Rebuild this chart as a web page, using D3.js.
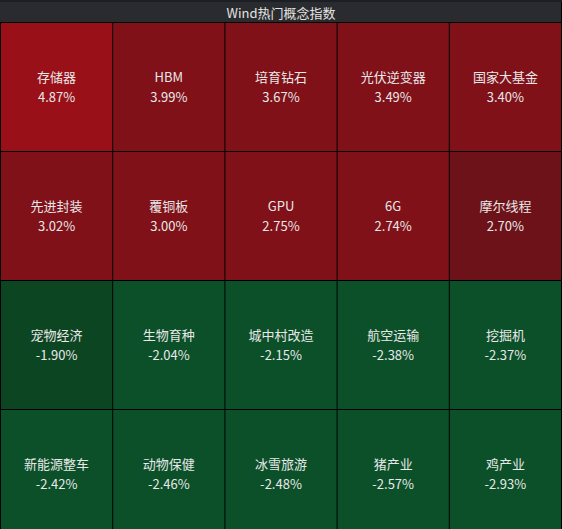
<!DOCTYPE html>
<html>
<head>
<meta charset="utf-8">
<script src="https://cdn.jsdelivr.net/npm/d3@7"></script>
<style>
  html, body { margin: 0; padding: 0; background: #000; }
  svg { display: block; }
  text { font-family: "Noto Sans CJK SC", "Noto Sans", sans-serif; }
</style>
</head>
<body>
<div id="chart"></div>
<script>
var WIDTH = 562;
var HEIGHT = 529;
var TITLE = 'Wind热门概念指数';

var names = [
  '存储器', 'HBM', '培育钻石', '光伏逆变器', '国家大基金',
  '先进封装', '覆铜板', 'GPU', '6G', '摩尔线程',
  '宠物经济', '生物育种', '城中村改造', '航空运输', '挖掘机',
  '新能源整车', '动物保健', '冰雪旅游', '猪产业', '鸡产业'
];
var changes = [
  4.87, 3.99, 3.67, 3.49, 3.40,
  3.02, 3.00, 2.75, 2.74, 2.70,
  -1.90, -2.04, -2.15, -2.38, -2.37,
  -2.42, -2.46, -2.48, -2.57, -2.93
];

var cells = names.map(function (n, i) {
  return { name: n, value: changes[i], col: i % 5, row: Math.floor(i / 5) };
});

// colour buckets
var color = d3.scaleThreshold()
  .domain([-2, 0, 2.72, 4.5])
  .range(['#0b5028', '#0c4521', '#6e1219', '#801119', '#9a1019']);

// plain hyphen for negatives, like the original
var fmt = d3.formatLocale({ decimal: '.', thousands: ',', grouping: [3], currency: ['', ''], minus: '-' }).format('.2f');

var x = d3.scaleBand().domain(d3.range(5)).range([0, 561]);
var y = d3.scaleBand().domain(d3.range(4)).range([22, 538]);

var svg = d3.select('#chart').append('svg')
  .attr('width', WIDTH)
  .attr('height', HEIGHT);

svg.append('rect')
  .attr('width', WIDTH).attr('height', HEIGHT)
  .attr('fill', '#000');

// title bar
svg.append('rect')
  .attr('width', WIDTH).attr('height', 2)
  .attr('fill', '#1b1e24');
svg.append('rect')
  .attr('y', 2).attr('width', WIDTH - 1).attr('height', 20)
  .attr('fill', '#2a2b2e');
svg.append('text')
  .attr('x', WIDTH / 2).attr('y', 12)
  .attr('text-anchor', 'middle')
  .attr('dominant-baseline', 'central')
  .attr('font-size', 13)
  .attr('fill', '#e2e2e2')
  .text(TITLE);

var g = svg.selectAll('g.cell')
  .data(cells)
  .enter()
    .append('g')
    .attr('class', 'cell')
    .attr('transform', function (d) { return 'translate(' + x(d.col) + ',' + y(d.row) + ')'; });

g.append('rect')
  .attr('x', 1).attr('y', 1)
  .attr('width', x.bandwidth() - 1)
  .attr('height', y.bandwidth() - 1)
  .attr('fill', function (d) { return color(d.value); });

g.append('text')
  .attr('x', x.bandwidth() / 2 + 0.5)
  .attr('y', y.bandwidth() / 2 - 10)
  .attr('text-anchor', 'middle')
  .attr('dominant-baseline', 'central')
  .attr('font-size', 13)
  .attr('fill', '#e8e8e8')
  .text(function (d) { return d.name; });

g.append('text')
  .attr('x', x.bandwidth() / 2 + 0.5)
  .attr('y', y.bandwidth() / 2 + 10)
  .attr('text-anchor', 'middle')
  .attr('dominant-baseline', 'central')
  .attr('font-size', 13)
  .attr('fill', '#e8e8e8')
  .text(function (d) { return fmt(d.value) + '%'; });
</script>
</body>
</html>
